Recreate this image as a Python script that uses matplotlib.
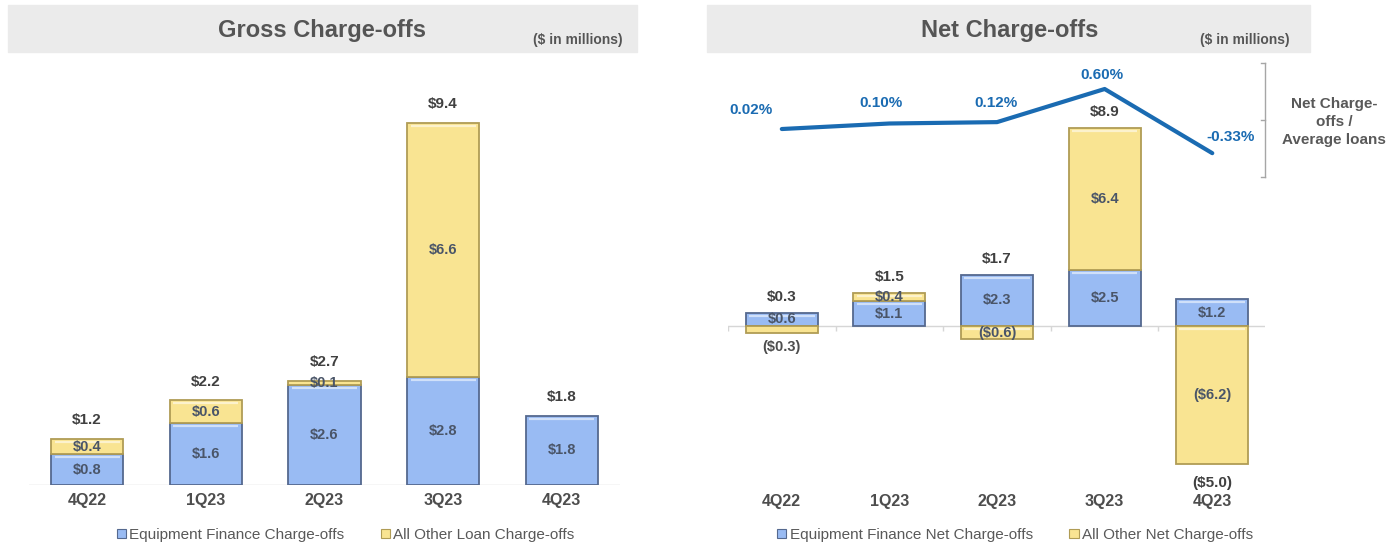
import matplotlib
matplotlib.use("Agg")
import matplotlib.pyplot as plt
from matplotlib.patches import Rectangle, Patch
from matplotlib.lines import Line2D

plt.rcParams['font.family'] = ['Liberation Sans', 'DejaVu Sans']

# ---- data ($ in millions) ----
quarters = ["4Q22", "1Q23", "2Q23", "3Q23", "4Q23"]

gross_equipment = [0.8, 1.6, 2.6, 2.8, 1.8]
gross_other = [0.4, 0.6, 0.1, 6.6, 0.0]
gross_total = [1.2, 2.2, 2.7, 9.4, 1.8]

net_equipment = [0.6, 1.1, 2.3, 2.5, 1.2]
net_other = [-0.3, 0.4, -0.6, 6.4, -6.2]
net_total = [0.3, 1.5, 1.7, 8.9, -5.0]

nco_ratio = [0.02, 0.10, 0.12, 0.60, -0.33]  # % of average loans

# ---- styling ----
W, H = 1400, 548
BLUE = "#99BBF3"
BLUE_EDGE = "#55698F"
YELLOW = "#F9E492"
YELLOW_EDGE = "#B09C55"
LINE_BLUE = "#1A6BB2"
TXT = "#4D4D4D"
INNER = "#4A5568"
HEADER = "#EBEBEB"


def fx(x):
    return x / W


def fy(y):
    return 1 - y / H


fig = plt.figure(figsize=(W / 100, H / 100), dpi=100)

# header bands
for x0, x1, title, tx, note_x in [(8, 637, "Gross Charge-offs", 322, 578),
                                  (707, 1310, "Net Charge-offs", 1010, 1245)]:
    fig.patches.append(Rectangle((fx(x0), fy(52)), fx(x1 - x0), (52 - 5) / H,
                                 transform=fig.transFigure, color=HEADER, zorder=0))
    fig.text(fx(tx), fy(30), title, ha="center", va="center", fontsize=17,
             fontweight="bold", color="#555555")
    fig.text(fx(note_x), fy(40), "($ in millions)", ha="center", va="center",
             fontsize=10, fontweight="bold", color="#555555")


def axes_px(left, right, top, bottom):
    return fig.add_axes([fx(left), fy(bottom), (right - left) / W, (bottom - top) / H])


def style_axis(ax, n, pad):
    for s in ax.spines.values():
        s.set_visible(False)
    ax.axhline(0, color="#D6D6D6", lw=1.0, zorder=1)
    ax.set_xticks(range(n))
    ax.set_xticklabels(quarters, fontsize=11.5, fontweight="bold", color=TXT)
    ax.tick_params(axis="x", length=0, pad=pad)
    ax.set_yticks([])
    ylo, yhi = ax.get_ylim()
    tick = (yhi - ylo) * 0.011
    ax.vlines([i - 0.5 for i in range(n + 1)], -tick, 0, color="#D6D6D6", lw=1.0, zorder=1)


def draw_bar(ax, x, bottom, height, face, edge, width, px_per_unit):
    ax.bar(x, height, width=width, bottom=bottom, color=face, edgecolor=edge,
           linewidth=1.3, zorder=2)
    # soft bevel highlight along the top edge of the segment
    if abs(height) * px_per_unit > 8:
        top = max(bottom, bottom + height) - 3.0 / px_per_unit
        ax.hlines(top, x - width / 2 + 0.03, x + width / 2 - 0.03, color="white",
                  lw=1.6, alpha=0.55, zorder=3)


# ---- Gross charge-offs ----
n = len(quarters)
scale1 = 38.5
ax1 = axes_px(29, 620, 60, 485)
ax1.set_xlim(-0.49, 4.49)
ax1.set_ylim(0, (485 - 60) / scale1)
bw1 = 0.61
for i in range(n):
    draw_bar(ax1, i, 0, gross_equipment[i], BLUE, BLUE_EDGE, bw1, scale1)
    ax1.text(i, gross_equipment[i] / 2, f"${gross_equipment[i]:.1f}", ha="center",
             va="center", fontsize=10.5, fontweight="bold", color=INNER, zorder=4)
    if gross_other[i] > 0:
        draw_bar(ax1, i, gross_equipment[i], gross_other[i], YELLOW, YELLOW_EDGE, bw1, scale1)
        ax1.text(i, gross_equipment[i] + gross_other[i] / 2, f"${gross_other[i]:.1f}",
                 ha="center", va="center", fontsize=10.5, fontweight="bold",
                 color=INNER, zorder=4)
    ax1.annotate(f"${gross_total[i]:.1f}", (i, gross_total[i]), xytext=(0, 13.5),
                 textcoords="offset points", ha="center", va="center",
                 fontsize=11, fontweight="bold", color="#404040")
style_axis(ax1, n, 6)

# ---- Net charge-offs ----
ax2 = axes_px(728, 1265, 60, 490)
scale2 = 22.3
ax2.set_xlim(-0.5, 4.49)
ax2.set_ylim(-(490 - 326) / scale2, (326 - 60) / scale2)
bw2 = 0.67


def money(v):
    return f"${v:.1f}" if v >= 0 else f"(${-v:.1f})"


for i in range(n):
    eq, ot = net_equipment[i], net_other[i]
    draw_bar(ax2, i, 0, eq, BLUE, BLUE_EDGE, bw2, scale2)
    ax2.text(i, eq / 2, money(eq), ha="center", va="center", fontsize=10.5,
             fontweight="bold", color=INNER, zorder=4)
    if ot >= 0:
        draw_bar(ax2, i, eq, ot, YELLOW, YELLOW_EDGE, bw2, scale2)
        ax2.text(i, eq + ot / 2, money(ot), ha="center", va="center", fontsize=10.5,
                 fontweight="bold", color=INNER, zorder=4)
        top, bot = eq + ot, 0
    else:
        draw_bar(ax2, i, 0, ot, YELLOW, YELLOW_EDGE, bw2, scale2)
        if abs(ot) < 0.4:
            ax2.annotate(money(ot), (i, ot), xytext=(0, -10), textcoords="offset points",
                         ha="center", va="center", fontsize=10.5, fontweight="bold",
                         color=TXT, zorder=4)
        else:
            ax2.text(i, ot / 2, money(ot), ha="center", va="center", fontsize=10.5,
                     fontweight="bold", color=INNER, zorder=4)
        top, bot = eq, ot
    if net_total[i] >= 0:
        ax2.annotate(money(net_total[i]), (i, top), xytext=(0, 11.5),
                     textcoords="offset points", ha="center", va="center",
                     fontsize=11, fontweight="bold", color="#404040")
    else:
        ax2.annotate(money(net_total[i]), (i, bot), xytext=(0, -13.5),
                     textcoords="offset points", ha="center", va="center",
                     fontsize=11, fontweight="bold", color="#404040")
style_axis(ax2, n, 3)

# ratio line on a secondary scale
ax3 = ax2.twinx()
ax3.set_ylim((130.4 - 490) / 69, (130.4 - 60) / 69)
ax3.set_yticks([])
for s in ax3.spines.values():
    s.set_visible(False)
ax3.plot(range(n), nco_ratio, color=LINE_BLUE, lw=3, solid_capstyle="round", zorder=5)
label_offsets = [(-22, 14), (-6, 15), (-1, 14), (-2, 10), (13, 11.5)]
for i, (v, off) in enumerate(zip(nco_ratio, label_offsets)):
    ax3.annotate(f"{v:.2f}%", (i, v), xytext=off, textcoords="offset points",
                 ha="center", va="center", fontsize=11, fontweight="bold",
                 color=LINE_BLUE)

# bracket and caption for the ratio line
bx = fx(1265)
fig.add_artist(Line2D([bx, bx], [fy(63), fy(177)], color="#A6A6A6", lw=1,
                      transform=fig.transFigure))
for yy in (63, 177):
    fig.add_artist(Line2D([bx - fx(4), bx], [fy(yy), fy(yy)], color="#A6A6A6", lw=1,
                          transform=fig.transFigure))
fig.add_artist(Line2D([bx, bx - fx(4)], [fy(120), fy(120)], color="#A6A6A6", lw=1,
                      transform=fig.transFigure))
fig.text(fx(1334), fy(122), "Net Charge-\noffs /\nAverage loans", ha="center",
         va="center", fontsize=11, fontweight="bold", color="#595959", linespacing=1.35)

# legends
for cx, labels in [(346, ["Equipment Finance Charge-offs", "All Other Loan Charge-offs"]),
                   (1015, ["Equipment Finance Net Charge-offs", "All Other Net Charge-offs"])]:
    handles = [Patch(facecolor=BLUE, edgecolor=BLUE_EDGE, lw=0.8),
               Patch(facecolor=YELLOW, edgecolor=YELLOW_EDGE, lw=0.8)]
    fig.legend(handles, labels, loc="center", bbox_to_anchor=(fx(cx), fy(535)),
               ncol=2, frameon=False, fontsize=11, handlelength=0.6, handleheight=0.6,
               handletextpad=0.2, columnspacing=2.4, labelcolor="#595959")

fig.savefig("out.png", dpi=100)
